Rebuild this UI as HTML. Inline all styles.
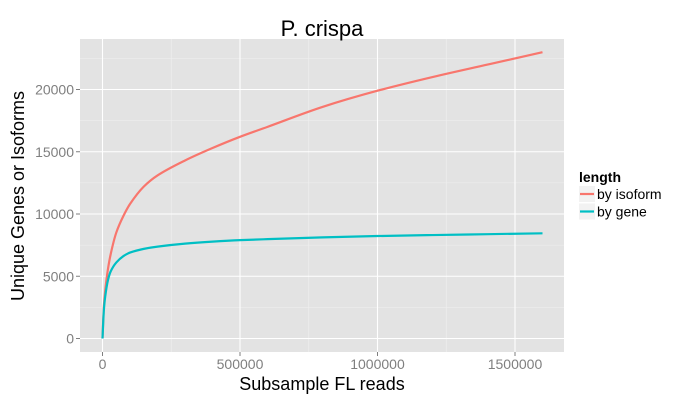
<!DOCTYPE html>
<html><head><meta charset="utf-8"><style>
body{margin:0;background:#fff}
svg{display:block;font-family:"Liberation Sans",sans-serif}
</style></head><body>
<svg id="c" width="700" height="400"></svg>
<script>
const xVals=[0,5000,10000,20000,30000,50000,75000,100000,150000,200000,300000,400000,500000,600000,800000,1000000,1200000,1400000,1600000];
const isoformVals=[0,2600,3900,5600,6800,8500,9800,10800,12200,13100,14300,15300,16200,17000,18600,19900,21000,22000,23000];
const geneVals=[0,2300,3400,4700,5400,6100,6600,6900,7200,7380,7620,7780,7900,7980,8120,8230,8310,8380,8450];
const xTicks=[0,500000,1000000,1500000];
const yTicks=[0,5000,10000,15000,20000];
const seriesNames=["by isoform","by gene"];
const seriesColors=["#F8766D","#00BFC4"];

const NS="http://www.w3.org/2000/svg";
const svg=document.getElementById('c');
const L=80,R=564,T=39,B=352;
const X=v=>102.5+v*(137.5/500000);
const Y=v=>338.5-v*(249/20000);
function el(tag,attrs,parent){const e=document.createElementNS(NS,tag);for(const k in attrs)e.setAttribute(k,attrs[k]);(parent||svg).appendChild(e);return e;}
function monotonePath(px,py){
  const n=px.length,d=[],m=[];
  for(let i=0;i<n-1;i++)d.push((py[i+1]-py[i])/(px[i+1]-px[i]));
  m[0]=d[0];m[n-1]=d[n-2];
  for(let i=1;i<n-1;i++){m[i]=(d[i-1]*d[i]<=0)?0:2/(1/d[i-1]+1/d[i]);}
  let s='M'+px[0]+','+py[0];
  for(let i=0;i<n-1;i++){const h=px[i+1]-px[i];
    s+=' C'+(px[i]+h/3)+','+(py[i]+m[i]*h/3)+' '+(px[i+1]-h/3)+','+(py[i+1]-m[i+1]*h/3)+' '+px[i+1]+','+py[i+1];}
  return s;
}

const panel=el('rect',{x:L,y:T,width:R-L,height:B-T,fill:'#E3E3E3'});


for(let i=0;i<xTicks.length-1;i++){const xm=(X(xTicks[i])+X(xTicks[i+1]))/2;el('line',{x1:xm,x2:xm,y1:T,y2:B,stroke:'#F0F0F0','stroke-width':0.6});}
for(let i=0;i<yTicks.length;i++){const ym=Y(yTicks[i]+2500);if(ym>T)el('line',{x1:L,x2:R,y1:ym,y2:ym,stroke:'#F0F0F0','stroke-width':0.6});}
xTicks.forEach(t=>{
  el('line',{x1:X(t),x2:X(t),y1:T,y2:B,stroke:'#fff','stroke-width':1.1});
  el('line',{x1:X(t),x2:X(t),y1:B,y2:B+4,stroke:'#7f7f7f','stroke-width':1});
  const tx=el('text',{x:X(t),y:B+17,'text-anchor':'middle','font-size':14,fill:'#7f7f7f'});tx.textContent=t;
  
  
});
yTicks.forEach(t=>{
  el('line',{x1:L,x2:R,y1:Y(t),y2:Y(t),stroke:'#fff','stroke-width':1.1});
  el('line',{x1:L-4,x2:L,y1:Y(t),y2:Y(t),stroke:'#7f7f7f','stroke-width':1});
  const tx=el('text',{x:L-6,y:Y(t)+5,'text-anchor':'end','font-size':14,fill:'#7f7f7f'});tx.textContent=t;
  
  
});
[isoformVals,geneVals].forEach((vals,i)=>{
  const p=el('path',{d:monotonePath(xVals.map(X),vals.map(Y)),fill:'none',stroke:seriesColors[i],'stroke-width':2.2,'stroke-linejoin':'round'});
  
  
});
const title=el('text',{x:322,y:36,'text-anchor':'middle','font-size':22,fill:'#000'});title.textContent='P. crispa';


const xt=el('text',{x:322,y:390,'text-anchor':'middle','font-size':18,fill:'#000'});xt.textContent='Subsample FL reads';


const yt=el('text',{x:0,y:0,'text-anchor':'middle','font-size':18,fill:'#000',transform:'translate(24,196) rotate(-90)'});yt.textContent='Unique Genes or Isoforms';


const lt=el('text',{x:579,y:182,'font-size':14,'font-weight':'bold',fill:'#000'});lt.textContent='length';


seriesNames.forEach((n,i)=>{
  const g=el('g',{});
  
  
  const y0=186+i*17.5;
  el('rect',{x:579,y:y0,width:16,height:16,fill:'#F2F2F2'},g);
  el('line',{x1:580,x2:594,y1:y0+8,y2:y0+8,stroke:seriesColors[i],'stroke-width':2.2},g);
  const t=el('text',{x:597,y:y0+13,'font-size':14,fill:'#000'},g);t.textContent=n;
});
</script>
</body></html>
